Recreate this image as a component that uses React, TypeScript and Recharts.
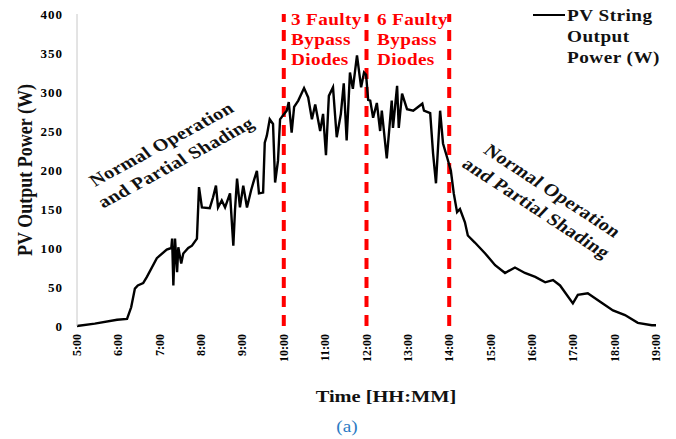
import React from 'react';
import { LineChart, Line, XAxis, YAxis, ReferenceLine } from 'recharts';

// ---------------------------------------------------------------------------
// Data: time in decimal hours, power in W
// ---------------------------------------------------------------------------

const TIMES = [
  5.0, 5.43, 5.97, 6.21, 6.31, 6.4, 6.47, 6.6, 6.69, 6.93, 7.17, 7.28, 7.3, 7.33, 7.37, 7.42,
  7.45, 7.52, 7.57, 7.69, 7.78, 7.9, 7.95, 8.02, 8.21, 8.29, 8.36, 8.41, 8.5, 8.58, 8.7, 8.78,
  8.82, 8.87, 8.94, 9.02, 9.11, 9.21, 9.28, 9.35, 9.4, 9.5, 9.54, 9.59, 9.66, 9.74, 9.79, 9.86,
  9.91, 9.98, 10.07, 10.12, 10.19, 10.25, 10.35, 10.49, 10.59, 10.68, 10.76, 10.88, 10.95, 11.02,
  11.09, 11.19, 11.28, 11.38, 11.45, 11.52, 11.6, 11.67, 11.77, 11.87, 11.94, 11.99, 12.04, 12.09,
  12.16, 12.25, 12.33, 12.37, 12.49, 12.61, 12.64, 12.74, 12.78, 12.86, 12.98, 13.13, 13.35, 13.39,
  13.54, 13.61, 13.68, 13.78, 13.85, 13.95, 14.04, 14.11, 14.19, 14.26, 14.38, 14.45, 14.62, 14.87,
  15.11, 15.35, 15.59, 15.83, 16.08, 16.32, 16.51, 16.68, 16.99, 17.11, 17.35, 17.65, 17.96, 18.25,
  18.56, 18.9, 19.0,
];

const POWER = [
  0, 3, 8, 9, 24, 48, 52, 55, 63, 87, 98, 100, 112, 52, 112, 69,
  101, 80, 93, 100, 103, 112, 178, 152, 151, 165, 180, 152, 161, 152, 170, 103,
  148, 189, 152, 180, 152, 174, 187, 199, 170, 171, 235, 244, 265, 259, 184, 212,
  265, 270, 276, 287, 248, 281, 289, 305, 293, 265, 284, 250, 272, 219,
  295, 306, 242, 272, 311, 238, 325, 304, 347, 306, 325, 322, 290, 289,
  267, 286, 250, 276, 215, 289, 254, 308, 254, 298, 278, 276, 285, 276,
  273, 221, 183, 276, 234, 216, 199, 170, 146, 150, 133, 116, 107, 93,
  78, 68, 75, 68, 63, 56, 59, 52, 29, 40, 42, 31, 20, 14,
  4, 1, 1,
];

const HOUR_TICKS = [5, 6, 7, 8, 9, 10, 11, 12, 13, 14, 15, 16, 17, 18, 19];
const POWER_TICKS = [0, 50, 100, 150, 200, 250, 300, 350, 400];
const FAULT_LINES = [10, 12, 14];

const data = TIMES.map((t, i) => ({ t, p: POWER[i] }));

const SERIF = '"Liberation Serif", "Times New Roman", serif';

// the source figure is stretched sideways, so text gets a scaleX
const STRETCH = 1.2;

const TimeTick = (props: any) => {
  const { x, y, payload } = props;
  return (
    <text
      x={x}
      y={y}
      dy={4}
      transform={`rotate(-90, ${x}, ${y})`}
      textAnchor="end"
      fontSize={12}
      fontWeight={700}
      fontFamily={SERIF}
      fill="#000"
    >
      {`${payload.value}:00`}
    </text>
  );
};

const redText: React.CSSProperties = {
  position: 'absolute',
  top: 10,
  color: '#ff0000',
  fontSize: 16,
  fontWeight: 700,
  lineHeight: '20px',
  letterSpacing: 0.3,
  whiteSpace: 'pre',
  transform: `scaleX(${STRETCH})`,
  transformOrigin: 'left top',
};

const slanted: React.CSSProperties = {
  position: 'absolute',
  fontSize: 17,
  fontWeight: 700,
  lineHeight: '22px',
  letterSpacing: 0.3,
  textAlign: 'center',
  whiteSpace: 'pre',
  color: '#111',
};

export default function App() {
  return (
    <div
      style={{
        position: 'absolute', left: 0, top: 0, width: 676, height: 439,
        background: '#fff', fontFamily: SERIF, overflow: 'hidden',
      }}
    >
      <LineChart
        width={676}
        height={439}
        data={data}
        margin={{ top: 14, right: 20, bottom: 73, left: 0 }}
      >
        <XAxis
          dataKey="t"
          type="number"
          domain={[5, 19]}
          ticks={HOUR_TICKS}
          interval={0}
          axisLine={false}
          tickLine={false}
          height={40}
          tick={<TimeTick />}
        />
        <YAxis
          type="number"
          domain={[0, 400]}
          ticks={POWER_TICKS}
          width={77}
          tickLine={false}
          tickMargin={8}
          axisLine={{ stroke: '#c8c8c8', strokeWidth: 1 }}
          tick={{ fontSize: 13, fontWeight: 700, fill: '#000', fontFamily: SERIF, letterSpacing: 1 }}
        />
        {FAULT_LINES.map((h) => (
          <ReferenceLine key={h} x={h} stroke="#ff0000" strokeWidth={4} strokeDasharray="11 8" />
        ))}
        <Line
          type="linear"
          dataKey="p"
          stroke="#000"
          strokeWidth={2.4}
          dot={false}
          isAnimationActive={false}
        />
      </LineChart>

      {/* fault region labels */}
      <div style={{ ...redText, left: 291 }}>{'3 Faulty\nBypass\nDiodes'}</div>
      <div style={{ ...redText, left: 377 }}>{'6 Faulty\nBypass\nDiodes'}</div>

      {/* legend */}
      <div style={{ position: 'absolute', left: 533, top: 14, width: 32, height: 2, background: '#000' }} />
      <div
        style={{
          position: 'absolute', left: 567, top: 5, fontSize: 16, fontWeight: 700,
          lineHeight: '21px', letterSpacing: 0.4, whiteSpace: 'pre', color: '#111',
          transform: `scaleX(${STRETCH})`, transformOrigin: 'left top',
        }}
      >
        {'PV String\nOutput\nPower (W)'}
      </div>

      {/* slanted annotations */}
      <div style={{ ...slanted, left: 169, top: 154, transform: `translate(-50%, -50%) scaleX(${STRETCH}) rotate(-33deg)` }}>
        {'Normal Operation\nand Partial Shading'}
      </div>
      <div style={{ ...slanted, left: 544, top: 200, transform: `translate(-50%, -50%) scaleX(${STRETCH}) rotate(38deg)` }}>
        {'Normal Operation\nand Partial Shading'}
      </div>

      {/* axis titles */}
      <div
        style={{
          position: 'absolute', left: 25, top: 170, fontSize: 18, fontWeight: 700,
          whiteSpace: 'nowrap', transform: `translate(-50%, -50%) scaleX(${STRETCH}) rotate(-90deg)`, color: '#111',
        }}
      >
        PV Output Power (W)
      </div>
      <div
        style={{
          position: 'absolute', left: 386, top: 397, fontSize: 17, fontWeight: 700,
          whiteSpace: 'nowrap', transform: `translate(-50%, -50%) scaleX(${STRETCH})`, color: '#111',
        }}
      >
        Time [HH:MM]
      </div>
      <div
        style={{
          position: 'absolute', left: 347, top: 427, fontSize: 16, whiteSpace: 'nowrap',
          transform: `translate(-50%, -50%) scaleX(${STRETCH})`, color: '#2b7bc4',
        }}
      >
        (a)
      </div>
    </div>
  );
}
